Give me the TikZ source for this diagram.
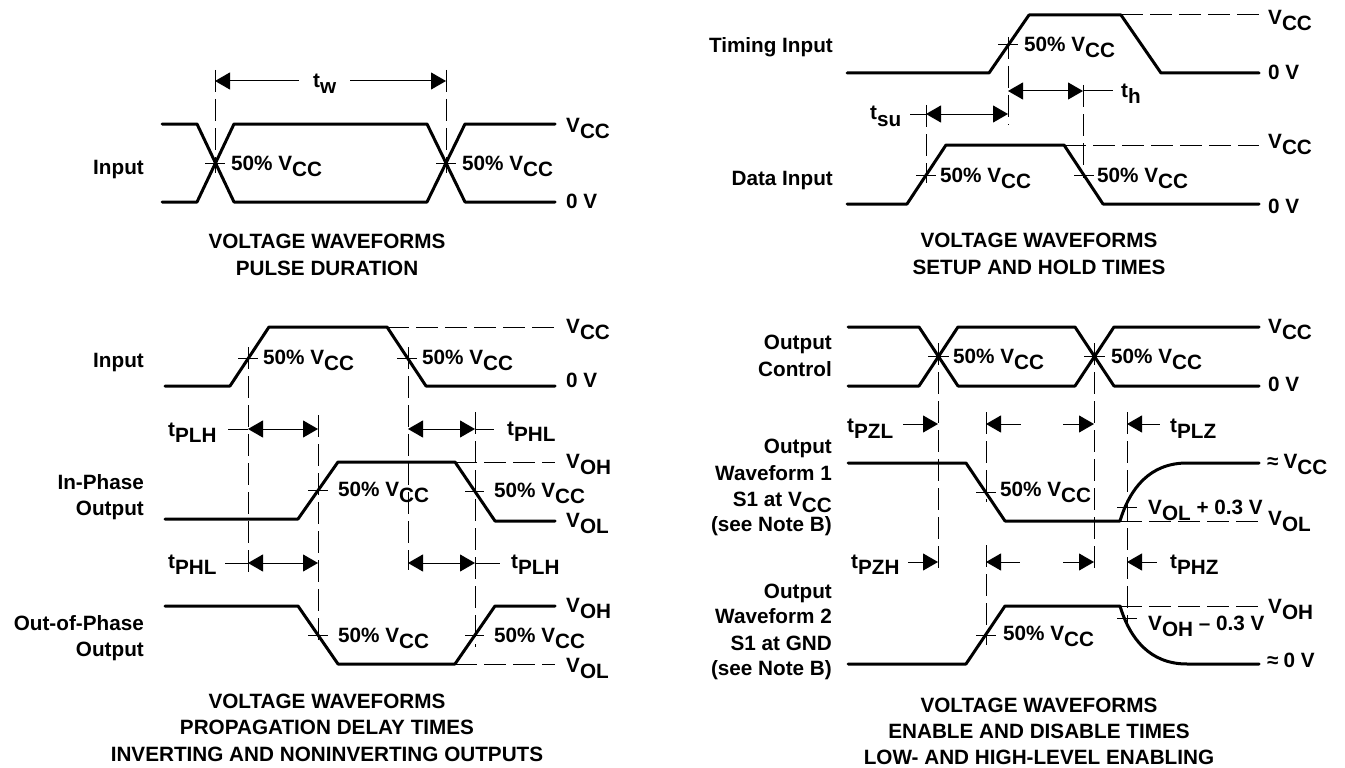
\documentclass[tikz,border=0pt]{standalone}
\usepackage{fontspec}
\setmainfont{Liberation Sans}
\usetikzlibrary{arrows.meta}
\newcommand{\dn}[1]{\raisebox{-6pt}{#1}}
\newcommand{\vcc}{V\dn{CC}}
\newcommand{\half}{50\% \vcc}
\newcommand{\approxs}{≈\hspace{5pt}}
\begin{document}
\begin{tikzpicture}[x=1pt,y=-1pt]
\tikzstyle{every node}=[inner sep=0pt, font=\fontsize{20.7}{24}\selectfont\bfseries]
\tikzstyle{wave}=[line width=3pt, line cap=round, line join=round]
\tikzstyle{guide}=[line width=1pt, dash pattern=on 22pt off 7pt]
\tikzstyle{stub}=[line width=1pt]
\tikzstyle{dim}=[line width=1pt, >={Triangle[length=15pt,width=17pt]}]
\useasboundingbox (0,0) rectangle (1345,768);
% waveforms
\draw[wave] (162,124) -- (197,124) -- (234,202) -- (427,202) -- (465,124) -- (555,124);
\draw[wave] (162,202) -- (197,202) -- (234,124) -- (427,124) -- (465,202) -- (555,202);
\draw[wave] (165,386) -- (230,386) -- (269,327) -- (387,327) -- (426,386) -- (555,386);
\draw[wave] (165,519) -- (298,519) -- (338,462) -- (455,462) -- (495,521) -- (555,521);
\draw[wave] (165,606) -- (298,606) -- (338,664) -- (455,664) -- (495,606) -- (555,606);
\draw[wave] (847,73) -- (989,73) -- (1029,15) -- (1121,15) -- (1161,73) -- (1259,73);
\draw[wave] (847,204) -- (907,204) -- (946,145) -- (1064,145) -- (1103,204) -- (1259,204);
\draw[wave] (848,327) -- (919,327) -- (958,386) -- (1075,386) -- (1114,327) -- (1259,327);
\draw[wave] (848,386) -- (919,386) -- (958,327) -- (1075,327) -- (1114,386) -- (1259,386);
\draw[wave] (848,463) -- (966,463) -- (1005,521) -- (1120,521) .. controls (1130,488) and (1150,463) .. (1187,463) -- (1259,463);
\draw[wave] (848,664) -- (966,664) -- (1005,606) -- (1120,606) .. controls (1130,639) and (1150,664) .. (1187,664) -- (1259,664);
% level lines and vertical guides
\foreach \i/\xa/\ya/\xb/\yb in {a/215/70/215/173, b/446/70/446/173, c/248/347/248/573, d/318/415/318/643, e/408/347/408/570, f/475/412/475/647,
  g/387/327/555/327, h/455/462/555/462, i/455/664/555/664, j/1008/37/1008/125, k/1083/85/1083/178, l/926/105/926/183, m/1121/15/1259/15, n/1064/145/1259/145,
  o/938/343/938/573, p/1094/343/1094/573, q/986/412/986/502, r/986/545/986/645, s/1127/412/1127/628, t/1120/521/1258/521, u/1120/606/1258/606}{
  \coordinate (\i1) at (\xa,\ya);
  \coordinate (\i2) at (\xb,\yb);
  \draw[guide] (\i1) -- (\i2);}
% 50% marks
\foreach \i/\xa/\xb/\y in {a/205/225/163, b/436/456/163, c/238/258/358, d/397/417/358, e/308/328/490, f/465/484/491, g/308/328/635, h/465/484/635,
  i/998/1018/45, j/916/936/175, k/1074/1094/175, l/928/949/356, m/1084/1105/356, n/976/996/492, o/1117/1137/507, p/976/996/635, q/1117/1137/618}{
  \coordinate (m\i1) at (\xa,\y);
  \coordinate (m\i2) at (\xb,\y);
  \draw[stub] (m\i1) -- (m\i2);}
% dimension arrows with two heads
\foreach \i/\xa/\xb/\y in {a/248/318/429, b/408/475/429, c/248/318/563, d/408/475/563, e/1008/1083/91, f/926/1008/114}{
  \coordinate (d\i1) at (\xa,\y);
  \coordinate (d\i2) at (\xb,\y);
  \draw[dim,<->] (d\i1) -- (d\i2);}
% dimension arrows with one head, the head at the first point
\foreach \i/\xa/\xb/\y in {a/215/299/81, b/446/350/81, c/938/903/424, d/986/1021/424, e/1094/1063/424, f/1127/1160/424,
  g/938/908/562, h/986/1020/562, i/1094/1063/562, j/1127/1157/562}{
  \coordinate (e\i1) at (\xa,\y);
  \coordinate (e\i2) at (\xb,\y);
  \draw[dim,<-] (e\i1) -- (e\i2);}
% stubs beside the labels
\foreach \i/\xa/\xb/\y in {a/228/248/429, b/475/494/429, c/225/248/563, d/475/500/563, e/1083/1113/91, f/910/926/114}{
  \coordinate (s\i1) at (\xa,\y);
  \coordinate (s\i2) at (\xb,\y);
  \draw[stub] (s\i1) -- (s\i2);}
% labels
\foreach \n/\x/\y/\s in {a/144/174/Input, b/144/367/Input, c/144/489/In-Phase, d/144/515/Output, e/144/630/Out-of-Phase, f/144/656/Output,
  g/833/53/Timing Input, h/833/185/Data Input, i/832/349/Output, j/832/376/Control, k/832/453/Output, l/832/480/Waveform 1,
  m/832/506/S1 at \vcc, n/832/531/(see Note B), o/832/598/Output, p/832/623/Waveform 2, q/832/650/S1 at GND, r/832/675/(see Note B)}{
  \node[anchor=base east] (l\n) at (\x,\y) {\s};}
\foreach \n/\x/\y/\s in {a/231/170/\half, b/462/170/\half, c/263/364/\half, d/422/364/\half, e/338/496/\half, f/494/497/\half, g/338/642/\half, h/494/642/\half,
  i/1024/52/\half, j/940/182/\half, k/1097/182/\half, l/953/363/\half, m/1111/363/\half, n/1000/496/\half, o/1003/640/\half,
  p/566/132/\vcc, q/566/208/0 V, r/566/333/\vcc, s/566/387/0 V, t/566/468/V\dn{OH}, u/566/527/V\dn{OL}, v/566/612/V\dn{OH}, w/566/672/V\dn{OL},
  x/1268/25/\vcc, y/1268/80/0 V, z/1268/148/\vcc, A/1268/213/0 V, B/1268/333/\vcc, C/1268/391/0 V, D/1267/468/\approxs\vcc, E/1268/525/V\dn{OL},
  F/1268/613/V\dn{OH}, G/1267/667/\approxs{}0 V, H/1148/514/V\dn{OL} + 0.3 V, I/1148/630/V\dn{OH} – 0.3 V,
  J/168/436/t\dn{PLH}, K/507/435/t\dn{PHL}, L/168/568/t\dn{PHL}, M/511/568/t\dn{PLH}, N/1121/97/t\dn{h}, O/870/120/t\dn{su},
  P/847/432/t\dn{PZL}, Q/1170/432/t\dn{PLZ}, R/851/568/t\dn{PZH}, S/1170/568/t\dn{PHZ}, T/313/88/t\dn{w}}{
  \node[anchor=base west] (n\n) at (\x,\y) {\s};}
\foreach \n/\x/\y/\s in {a/327/248/VOLTAGE WAVEFORMS, b/327/275/PULSE DURATION, c/327/708/VOLTAGE WAVEFORMS, d/327/734/PROPAGATION DELAY TIMES, e/327/761/INVERTING AND NONINVERTING OUTPUTS,
  f/1039/247/VOLTAGE WAVEFORMS, g/1039/274/SETUP AND HOLD TIMES, h/1039/712/VOLTAGE WAVEFORMS, i/1039/738/ENABLE AND DISABLE TIMES, j/1039/764/LOW- AND HIGH-LEVEL ENABLING}{
  \node[anchor=base] (t\n) at (\x,\y) {\s};}
\end{tikzpicture}
\end{document}
